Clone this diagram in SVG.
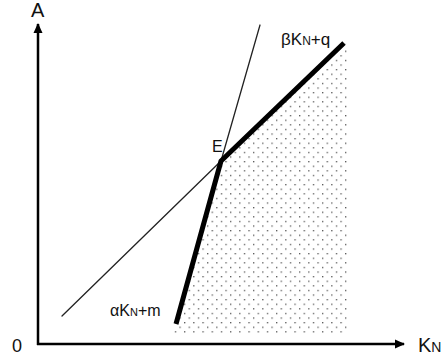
<svg xmlns="http://www.w3.org/2000/svg" width="441" height="362" viewBox="0 0 441 362">
<style>
.lbl{font-family:"Liberation Sans",Arial,sans-serif;fill:#111;}
.thin{stroke:#222;stroke-width:1.3;fill:none;stroke-linecap:round;}
.thick{stroke:#000;stroke-width:5;fill:none;stroke-linecap:butt;stroke-linejoin:round;}
.axis{stroke:#000;stroke-width:2.5;fill:none;}
</style>
<defs>
<pattern id="dots" patternUnits="userSpaceOnUse" x="0" y="0" width="9.2" height="9.2">
<rect x="0" y="0" width="1.3" height="1.3" fill="#555"/>
<rect x="4.6" y="4.6" width="1.3" height="1.3" fill="#555"/>
</pattern>
<marker id="arr" viewBox="0 0 10 10" refX="9" refY="5" markerWidth="10" markerHeight="10" markerUnits="userSpaceOnUse" orient="auto">
<path d="M0,0.5 L10,5 L0,9.5 Z" fill="#000"/>
</marker>
</defs>
<g id="region">
<polygon points="173,333 221,161 344,43 347,43 347,333" fill="url(#dots)"/>
</g>
<g id="connectors">
<line class="axis" x1="38" y1="345" x2="38" y2="24" marker-end="url(#arr)"/>
<line class="axis" x1="37" y1="344" x2="404" y2="344" marker-end="url(#arr)"/>
<line class="thin" x1="62" y1="316" x2="221" y2="161"/>
<line class="thin" x1="221" y1="161" x2="260" y2="25"/>
<polyline class="thick" points="176,324 221,161 344,43"/>
</g>
<g id="labels">
<text class="lbl" x="31" y="17" font-size="20">A</text>
<text class="lbl" x="12" y="352" font-size="18">0</text>
<text class="lbl" x="418" y="352" font-size="20">K<tspan font-size="14">N</tspan></text>
<text class="lbl" x="212" y="152" font-size="16">E</text>
<text class="lbl" x="281" y="45" font-size="17">βK<tspan font-size="12">N</tspan>+q</text>
<text class="lbl" x="110" y="316" font-size="16">αK<tspan font-size="11">N</tspan>+m</text>
</g>
</svg>
